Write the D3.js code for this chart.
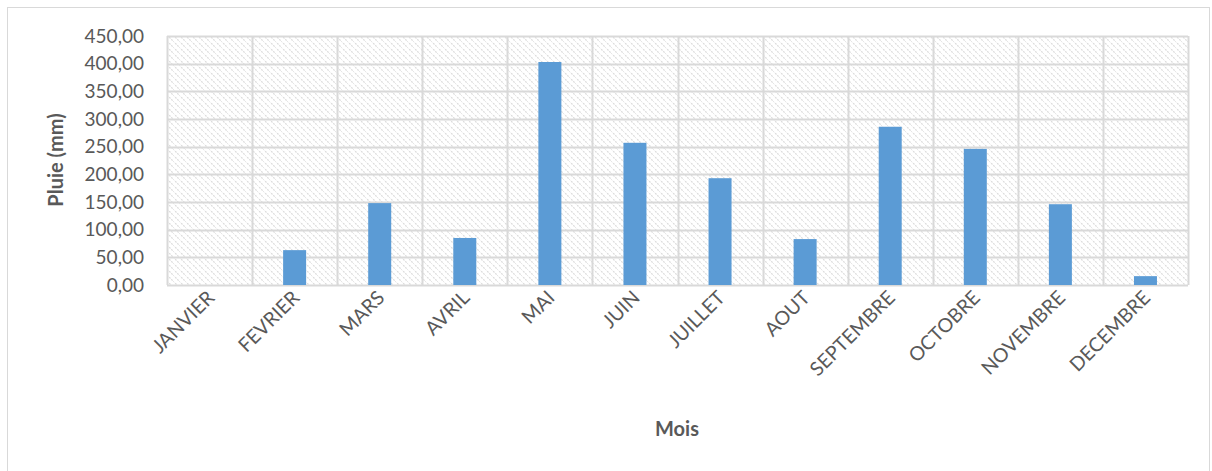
<!DOCTYPE html>
<html lang="fr">
<head>
    <meta charset="UTF-8">
    <title>Pluie</title>
    <style>
        body { margin: 0; background: #fff; }
        svg { display: block; font-family: Lato, "Open Sans", sans-serif; }
    </style>
</head>
<body>
    <div id="graphic"></div>

    <script src="https://cdn.jsdelivr.net/npm/d3@7"></script>
    <script>
        var months = ['JANVIER', 'FEVRIER', 'MARS', 'AVRIL', 'MAI', 'JUIN', 'JUILLET', 'AOUT', 'SEPTEMBRE', 'OCTOBRE', 'NOVEMBRE', 'DECEMBRE'];
        var rain = [0, 63, 148, 85, 403, 257, 193, 83, 286, 246, 146, 16];
        var yTicks = [0, 50, 100, 150, 200, 250, 300, 350, 400, 450];

        var width = 1212;
        var height = 471;
        var plot = {left: 167, right: 1188, top: 36, bottom: 285};

        var svg = d3.select('#graphic')
            .append('svg')
            .attr('width', width)
            .attr('height', height);

        // hatch pattern for the plot background
        var pat = svg.append('defs')
            .append('pattern')
            .attr('id', 'hatch')
            .attr('patternUnits', 'userSpaceOnUse')
            .attr('width', 6)
            .attr('height', 6);
        pat.append('path')
            .attr('d', 'M-1,-1 L7,7 M-4,2 L2,8 M4,-2 L8,2')
            .attr('stroke', '#dcdcdc')
            .attr('stroke-width', 1.2)
            .attr('stroke-dasharray', '2,1');

        // outer chart border
        svg.append('rect')
            .attr('x', 7.5).attr('y', 7.5)
            .attr('width', 1202).attr('height', 480)
            .attr('fill', 'none')
            .attr('stroke', '#d9d9d9');

        var x = d3.scaleBand().domain(months).range([plot.left, plot.right]).paddingInner(0).paddingOuter(0);
        var y = d3.scaleLinear().domain([0, 450]).range([plot.bottom, plot.top]);

        svg.append('rect')
            .attr('x', plot.left).attr('y', plot.top)
            .attr('width', plot.right - plot.left)
            .attr('height', plot.bottom - plot.top)
            .attr('fill', 'url(#hatch)');

        // horizontal grid
        svg.selectAll('.hgrid')
            .data(yTicks)
            .join('line')
            .attr('class', 'hgrid')
            .attr('x1', plot.left).attr('x2', plot.right)
            .attr('y1', function(d) { return Math.round(y(d)) + 0.5; })
            .attr('y2', function(d) { return Math.round(y(d)) + 0.5; })
            .attr('stroke', '#d9d9d9')
            .attr('stroke-width', 2);

        // vertical grid at category boundaries
        var bounds = months.map(function(m) { return x(m); }).concat([plot.right]);
        svg.selectAll('.vgrid')
            .data(bounds)
            .join('line')
            .attr('class', 'vgrid')
            .attr('x1', function(d) { return Math.round(d) + 0.5; })
            .attr('x2', function(d) { return Math.round(d) + 0.5; })
            .attr('y1', plot.top).attr('y2', plot.bottom)
            .attr('stroke', '#d9d9d9')
            .attr('stroke-width', 2);

        var barW = 23;
        svg.selectAll('.bar')
            .data(rain)
            .join('rect')
            .attr('class', 'bar')
            .attr('x', function(d, i) { return x(months[i]) + x.bandwidth() / 2 - barW / 2; })
            .attr('y', function(d) { return y(d); })
            .attr('width', barW)
            .attr('height', function(d) { return y(0) - y(d); })
            .attr('fill', '#5b9bd5');

        // y axis labels
        var yAxis = svg.append('g')
            .attr('transform', 'translate(144,0)')
            .call(d3.axisLeft(y).tickValues(yTicks).tickSize(0).tickPadding(0)
                .tickFormat(function(d) { return d3.format('.2f')(d).replace('.', ','); }));
        yAxis.select('.domain').remove();
        yAxis.selectAll('text')
            .attr('fill', '#595959')
            .style('font-size', '19px')
            .style('font-family', 'Lato, sans-serif');

        // x axis labels
        svg.selectAll('.xlab')
            .data(months)
            .join('text')
            .attr('class', 'xlab')
            .attr('transform', function(d) { return 'translate(' + (x(d) + x.bandwidth() / 2 + 6) + ',299) rotate(-45)'; })
            .attr('text-anchor', 'end')
            .attr('fill', '#595959')
            .style('font-size', '19.5px')
            .text(function(d) { return d; });

        svg.append('text')
            .attr('transform', 'translate(63,160) rotate(-90)')
            .attr('text-anchor', 'middle')
            .attr('fill', '#595959')
            .style('font-size', '20px')
            .style('font-weight', 'bold')
            .text('Pluie (mm)');

        svg.append('text')
            .attr('x', 677).attr('y', 436)
            .attr('text-anchor', 'middle')
            .attr('fill', '#595959')
            .style('font-size', '20px')
            .style('font-weight', 'bold')
            .text('Mois');
    </script>
</body>
</html>
